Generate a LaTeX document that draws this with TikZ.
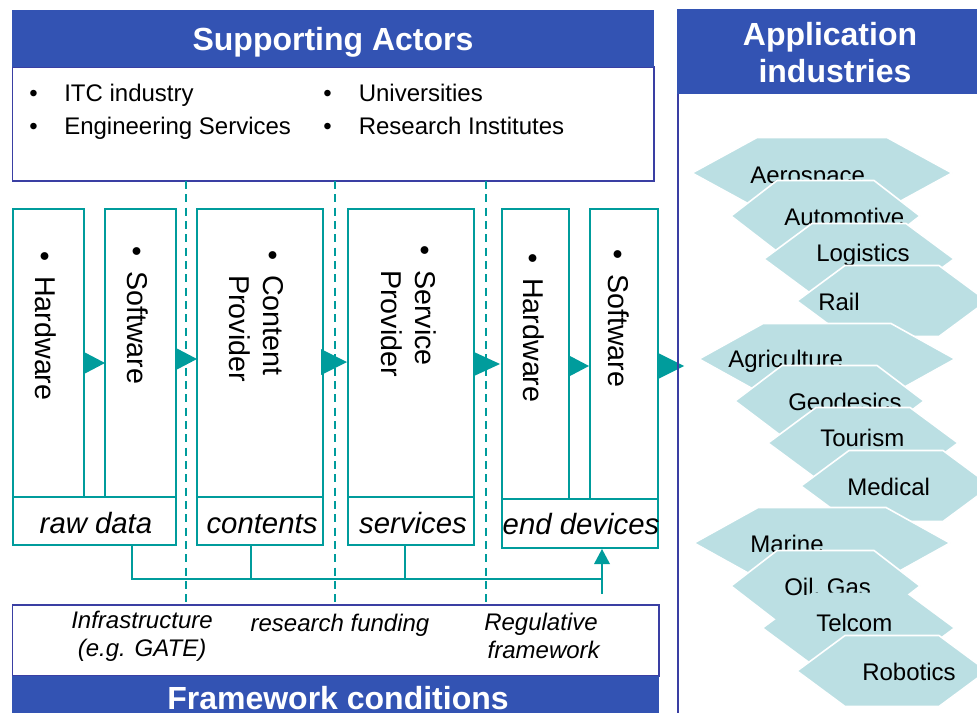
\documentclass[tikz,border=0pt]{standalone}
\usepackage{fontspec}
\setmainfont{Liberation Sans}
\definecolor{bandblue}{HTML}{3353B3}
\definecolor{lineblue}{HTML}{3A3FA3}
\definecolor{tealc}{HTML}{009C9C}
\definecolor{hexc}{HTML}{BBDFE3}
\tikzset{
  x=0.75pt,y=-0.75pt,
  tealbox/.style={draw=tealc,line width=1.5pt,fill=white,inner sep=0pt},
  bluebox/.style={draw=lineblue,line width=1.1pt,fill=white,inner sep=0pt},
  band/.style={fill=bandblue,inner sep=0pt,text=white,align=center,font=\fontsize{24}{27.75}\selectfont\bfseries},
  conn/.style={draw=tealc,line width=1.5pt},
  sepline/.style={draw=tealc,line width=1pt,dash pattern=on 6pt off 4pt},
  tipfill/.style={fill=tealc,draw=none},
  txt/.style={inner sep=0pt,anchor=base west,font=\fontsize{18}{22}\selectfont},
  ital/.style={inner sep=0pt,anchor=base,align=center,font=\fontsize{18}{21}\selectfont\itshape},
  captext/.style={inner sep=0pt,anchor=base,font=\fontsize{22}{26}\selectfont\itshape},
  vert/.style={inner sep=0pt,rotate=-90,anchor=base west,font=\fontsize{21.5}{25.5}\selectfont},
  hexshape/.style={fill=hexc},
  hexline/.style={draw=white,line width=1.2pt},
  hexplain/.style={draw=none},
}
% name, x1, y1, x2, y2, style
\newcommand{\rectnode}[6]{%
  \pgfmathsetmacro{\rw}{(#4-#2)*0.75}\pgfmathsetmacro{\rh}{(#5-#3)*0.75}%
  \node[#6,minimum width=\rw pt,minimum height=\rh pt] (#1) at ({(#2+#4)/2},{(#3+#5)/2}) {};}
% style, name, L, R, T, inset, (text pos), text
\newcommand{\hexa}[8][hexline]{%
  \pgfmathsetmacro{\hxtl}{#3+#6}\pgfmathsetmacro{\hxtr}{#4-#6}%
  \pgfmathsetmacro{\hxm}{#5+35}\pgfmathsetmacro{\hxb}{#5+70.5}%
  \pgfmathsetmacro{\hxl}{#3-2}\pgfmathsetmacro{\hxr}{#4+2}\pgfmathsetmacro{\hxt}{#5-0.5}%
  \path[hexshape,#1] (\hxl,\hxm) -- (\hxtl,\hxt) -- (\hxtr,\hxt) -- (\hxr,\hxm) -- (\hxtr,\hxb) -- (\hxtl,\hxb) -- cycle;
  \node[txt] (#2) at #7 {#8};}
\newcommand{\vlabel}[4]{%
  \node[vert] (#1) at (#2,#3) {\begin{tabular}[t]{@{}l@{}}\makebox[18.75pt][l]{•}#4\end{tabular}};}
\begin{document}
\begin{tikzpicture}
\useasboundingbox (0,0) rectangle (977,713);
\clip (0,0) rectangle (977,713);
\fill[white] (0,0) rectangle (977,713);

% Supporting actors
\rectnode{actors}{12.5}{67}{654}{181}{bluebox}
\rectnode{actband}{12}{10}{654}{67}{band}
\node[band,anchor=base] (acttitle) at (333,51) {Supporting Actors};
\node[txt] (b1) at (29,102) {•};
\node[txt] (t1) at (64,102) {ITC industry};
\node[txt] (b2) at (29,135) {•};
\node[txt] (t2) at (64,135) {Engineering Services};
\node[txt] (b3) at (323,102) {•};
\node[txt] (t3) at (358.5,102) {Universities};
\node[txt] (b4) at (323,135) {•};
\node[txt] (t4) at (358.5,135) {Research Institutes};

% Framework
\rectnode{frame}{12.5}{605}{659}{676}{bluebox}
\rectnode{frameband}{12}{676}{659}{713}{band}
\node[band,anchor=base] (frametitle) at (338,709.5) {Framework conditions};

% Dashed separators
\coordinate (d1a) at (186,181);\coordinate (d1b) at (186,606);
\coordinate (d2a) at (335,181);\coordinate (d2b) at (335,606);
\coordinate (d3a) at (486,181);\coordinate (d3b) at (486,606);
\draw[sepline] (d1a) -- (d1b);
\draw[sepline] (d2a) -- (d2b);
\draw[sepline] (d3a) -- (d3b);

% Chain boxes
\rectnode{hw1}{13}{209}{84}{497}{tealbox}
\rectnode{sw1}{105}{209}{176}{497}{tealbox}
\rectnode{cp}{197}{209}{323}{497}{tealbox}
\rectnode{sp}{348}{209}{474}{497}{tealbox}
\rectnode{hw2}{502}{209}{569}{499}{tealbox}
\rectnode{sw2}{590}{209}{658}{499}{tealbox}
\rectnode{raw}{13}{497}{176}{545}{tealbox}
\rectnode{con}{197}{497}{323}{545}{tealbox}
\rectnode{ser}{348}{497}{474}{545}{tealbox}
\rectnode{end}{502}{499}{658}{548}{tealbox}

\vlabel{lhw1}{36}{251}{Hardware}
\vlabel{lsw1}{127}{246}{Software}
\node[vert] (lcp) at (263,250) {\begin{tabular}[t]{@{}l@{}}\makebox[18.75pt][l]{•}Content\\\makebox[18.75pt][l]{}Provider\end{tabular}};
\node[vert] (lsp) at (415,245) {\begin{tabular}[t]{@{}l@{}}\makebox[18.75pt][l]{•}Service\\\makebox[18.75pt][l]{}Provider\end{tabular}};
\vlabel{lhw2}{523}{253}{Hardware}
\vlabel{lsw2}{608}{249}{Software}

\node[captext] (lraw) at (96,533) {raw data};
\node[captext] (lcon) at (262,533) {contents};
\node[captext] (lser) at (413,533) {services};
\node[captext] (lend) at (581,534) {end devices};

% Chain arrows
\fill[tipfill] (84,352) -- (105,363) -- (84,374) -- cycle;
\fill[tipfill] (176,348) -- (197,359) -- (176,370) -- cycle;
\fill[tipfill] (321,349) -- (347,362) -- (321,375) -- cycle;
\fill[tipfill] (474,352) -- (500,364) -- (474,376) -- cycle;
\fill[tipfill] (570,356) -- (589,366) -- (570,376) -- cycle;
\fill[tipfill] (658,353) -- (684,366) -- (658,379) -- cycle;

% Feedback bus
\coordinate (busa) at (132,579);
\coordinate (busb) at (251,579);
\coordinate (busc) at (405,579);
\coordinate (busd) at (602,579);
\coordinate (buse) at (602,594);
\coordinate (bust) at (602,563);
\draw[conn] (raw.south -| busa) -- (busa) -- (busd);
\draw[conn] (con.south -| busb) -- (busb);
\draw[conn] (ser.south -| busc) -- (busc);
\draw[conn,line width=1.2pt] (buse) -- (bust);
\fill[tipfill] (594,564) -- (602,549) -- (610,564) -- cycle;

% Framework labels
\node[ital] (f1) at (142,656) {Infrastructure\\(e.g. GATE)};
\node[ital] (f2) at (340,631) {research funding};
\node[ital] (f3) at (541,658) {Regulative\\\hspace*{4pt}framework};

% Application industries
\fill[bandblue] (677,9) rectangle (977,94);
\node[band,anchor=base] (apptitle) at (830,83) {Application\\\hspace*{7.5pt}industries};
\coordinate (ala) at (678,94);\coordinate (alb) at (678,713);
\draw[draw=lineblue,line width=1.2pt] (ala) -- (alb);

\hexa{aero}{694}{950}{138}{63}{(750,183)}{Aerospace}
\hexa{auto}{733}{918}{181}{44}{(784,225)}{Automotive}
\hexa{logi}{766}{952}{224}{46}{(816,261)}{Logistics}
\hexa{rail}{799}{985}{266}{46}{(818,310)}{Rail}
\hexa{agri}{701}{953}{324}{62}{(728,367)}{Agriculture}
\hexa{geod}{737}{922}{366}{45}{(788,410)}{Geodesics}
\hexa{tour}{770}{956}{408}{46}{(820,446)}{Tourism}
\hexa{medi}{803}{989}{451}{46}{(847,495)}{Medical}
\hexa{mari}{696}{948}{508}{62}{(750,552)}{Marine}
\hexa{oilg}{733}{918}{551}{44}{(784,595)}{Oil, Gas}
\hexa[hexplain]{telc}{766}{951}{593}{46}{(816,631)}{Telcom}
\hexa{robo}{799}{985}{636}{46}{(862,680)}{Robotics}
\end{tikzpicture}
\end{document}
